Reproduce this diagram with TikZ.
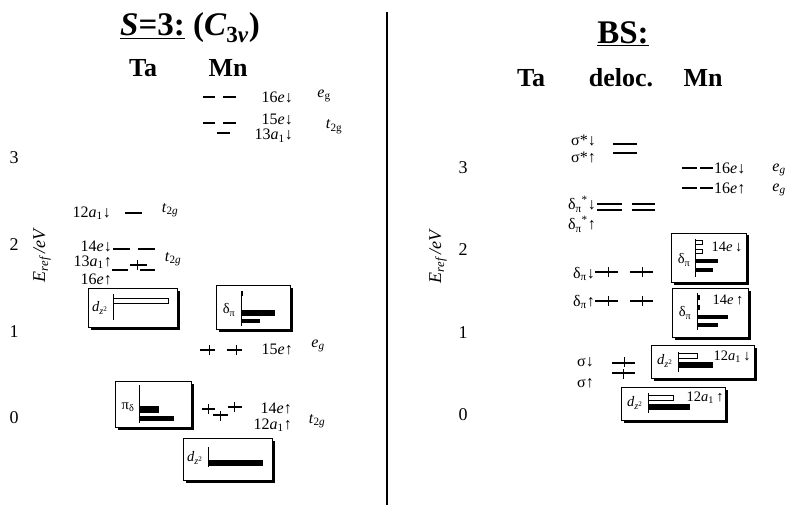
\documentclass[tikz,border=0pt]{standalone}
\usepackage{fontspec}
\setmainfont{Liberation Serif}

% box with a drop shadow, corners given as (x1,y1) and (x2,y2)
\newcommand{\mobox}[2]{%
	\fill ([shift={(2.5,2.5)}]#1) rectangle ([shift={(2.5,2.5)}]#2);
	\draw[line width=0.9pt, fill=white] (#1) rectangle (#2);}
% one electron on a level
\newcommand{\spin}[2]{\draw[elec] (#1,#2-5) -- (#1,#2+5);}

\begin{document}
\begin{tikzpicture}[x=1pt, y=-1pt,
	lvl/.style={line width=1.5pt},
	elec/.style={line width=0.9pt},
	openbar/.style={line width=0.7pt, fill=white},
	lbl/.style={font=\fontsize{16}{18}\selectfont, inner sep=0pt},
	boxlbl/.style={font=\fontsize{14.5}{16}\selectfont, inner sep=0pt},
	num/.style={font=\fontsize{18}{20}\selectfont, inner sep=0pt},
	elab/.style={font=\fontsize{18}{20}\selectfont\itshape, inner sep=0pt, rotate=90},
	hdr/.style={font=\fontsize{26}{28}\selectfont\bfseries, inner sep=0pt},
	ttl/.style={font=\fontsize{33}{35}\selectfont\bfseries, inner sep=0pt}]
	
	\useasboundingbox (0,0) rectangle (787,505);
	
	% divider between the two panels
	\draw[line width=1.2pt] (387,12) -- (387,505);
	
	%%%%%%%%%%%%%%%% left panel: S=3 %%%%%%%%%%%%%%%%
	\node[ttl] (ttlS) at (190,28) {\underline{\textit{S}=3:} (\textit{C}\textsubscript{3\textit{v}})};
	\node[hdr] (taL) at (143,68) {Ta};
	\node[hdr] (mnL) at (228,68) {Mn};
	
	% energy scale
	\foreach \v/\yy in {3/158, 2/245, 1/332, 0/418}
		\node[num] (nL\v) at (14,\yy) {\v};
	\node[elab] (eL) at (42,256) {E\textsubscript{ref}\,/eV};
	
	% empty Mn levels (spin down)
	\draw[lvl] (203,97) -- (215,97) (223,97) -- (236,97);
	\draw[lvl] (203,123) -- (215,123) (223,123) -- (236,123);
	\draw[lvl] (217,133) -- (230,133);
	\node[lbl, anchor=east] (l16d) at (293,97) {16\textit{e}↓};
	\node[lbl, anchor=east] (l15d) at (293,119) {15\textit{e}↓};
	\node[lbl, anchor=east] (l13d) at (293,136) {13\textit{a}\textsubscript{1}↓};
	\node[lbl] (egA) at (324,96) {\textit{e}\textsubscript{g}};
	\node[lbl] (tgA) at (334,127) {\textit{t}\textsubscript{2g}};
	
	% Ta levels
	\draw[lvl] (125,213) -- (142,213);
	\node[lbl, anchor=east] (l12d) at (111,213) {12\textit{a}\textsubscript{1}↓};
	\node[lbl] (tgB) at (170,210) {\textit{t}\textsubscript{2\textit{g}}};
	
	\draw[lvl] (113,249) -- (130,249) (138,249) -- (155,249);
	\draw[lvl] (112,270) -- (128,270) (140,270) -- (155,270);
	\draw[lvl] (130,265) -- (147,265);
	\spin{137}{265}
	\node[lbl, anchor=east] (l14d) at (112,246) {14\textit{e}↓};
	\node[lbl, anchor=east] (l13u) at (112,262) {13\textit{a}\textsubscript{1}↑};
	\node[lbl, anchor=east] (l16u) at (112,279) {16\textit{e}↑};
	\node[lbl] (tgC) at (173,259) {\textit{t}\textsubscript{2\textit{g}}};
	
	% occupied Mn levels (spin up)
	\draw[lvl] (200,350) -- (215,350) (227,350) -- (242,350);
	\spin{209}{350} \spin{236}{350}
	\node[lbl, anchor=east] (l15u) at (293,349) {15\textit{e}↑};
	\node[lbl] (egB) at (318,346) {\textit{e}\textsubscript{\textit{g}}};
	
	\draw[lvl] (202,409) -- (215,409) (213,415) -- (228,415) (228,407) -- (242,407);
	\spin{208}{409} \spin{220}{416} \spin{234}{407}
	\node[lbl, anchor=east] (l14u) at (292,408) {14\textit{e}↑};
	\node[lbl, anchor=east] (l12u) at (292,425) {12\textit{a}\textsubscript{1}↑};
	\node[lbl] (tgD) at (317,421) {\textit{t}\textsubscript{2\textit{g}}};
	
	% population boxes
	\mobox{88,288}{177,327}
	\node[boxlbl] (bA) at (100,308) {\textit{d}\textsubscript{\textit{z}\textsuperscript{2}}};
	\draw[line width=0.9pt] (113,294) -- (113,320);
	\draw[openbar] (113,298) rectangle (168,303);
	
	\mobox{216,285}{290,329}
	\node[boxlbl] (bB) at (229,310) {δ\textsubscript{π}};
	\draw[line width=0.9pt] (241,291) -- (241,326);
	\fill (241,291) rectangle (243,296);
	\fill (241,310) rectangle (275,316);
	\fill (241,319) rectangle (260,323);
	
	\mobox{115,381}{191,427}
	\node[boxlbl] (bC) at (128,407) {π\textsubscript{δ}};
	\draw[line width=0.9pt] (139,385) -- (139,423);
	\fill (139,406) rectangle (159,413);
	\fill (139,416) rectangle (174,421);
	
	\mobox{183,438}{272,480}
	\node[boxlbl] (bD) at (195,458) {\textit{d}\textsubscript{\textit{z}\textsuperscript{2}}};
	\draw[line width=0.9pt] (208,447) -- (208,467);
	\fill (208,460) rectangle (263,466);
	
	%%%%%%%%%%%%%%%% right panel: BS %%%%%%%%%%%%%%%%
	\node[ttl] (ttlBS) at (623,34) {\underline{BS:}};
	\node[hdr] (taR) at (531,78) {Ta};
	\node[hdr] (dlR) at (621,78) {deloc.};
	\node[hdr] (mnR) at (703,78) {Mn};
	
	% energy scale
	\foreach \v/\yy in {3/168, 2/250, 1/333, 0/415}
		\node[num] (nR\v) at (463,\yy) {\v};
	\node[elab] (eR) at (438,257) {E\textsubscript{ref}\,/eV};
	
	% delocalised levels
	\draw[lvl] (613,144) -- (637,144) (613,153) -- (637,153);
	\node[lbl, anchor=east] (sgd) at (596,141) {σ*↓};
	\node[lbl, anchor=east] (sgu) at (596,158) {σ*↑};
	
	\draw[lvl] (597,204) -- (622,204) (597,210) -- (622,210)
		(632,204) -- (655,204) (632,210) -- (655,210);
	\node[lbl, anchor=east] (dpsd) at (596,204) {δ\textsubscript{π}\textsuperscript{*}↓};
	\node[lbl, anchor=east] (dpsu) at (596,224) {δ\textsubscript{π}\textsuperscript{*}↑};
	
	\draw[lvl] (595,272) -- (618,272) (630,272) -- (653,272);
	\spin{608}{272} \spin{642}{272}
	\node[lbl, anchor=east] (dpd) at (595,274) {δ\textsubscript{π}↓};
	
	\draw[lvl] (595,301) -- (618,301) (630,301) -- (653,301);
	\spin{608}{301} \spin{642}{301}
	\node[lbl, anchor=east] (dpu) at (595,302) {δ\textsubscript{π}↑};
	
	\draw[lvl] (612,363) -- (635,363) (612,373) -- (635,373);
	\spin{624}{362} \spin{623}{374}
	\node[lbl, anchor=east] (sd) at (594,362) {σ↓};
	\node[lbl, anchor=east] (su) at (594,383) {σ↑};
	
	% Mn levels
	\draw[lvl] (682,168) -- (697,168) (700,168) -- (713,168);
	\draw[lvl] (682,188) -- (697,188) (700,188) -- (713,188);
	\node[lbl, anchor=west] (r16d) at (714,168) {16\textit{e}↓};
	\node[lbl, anchor=west] (r16u) at (714,188) {16\textit{e}↑};
	\node[lbl] (egC) at (779,170) {\textit{e}\textsubscript{\textit{g}}};
	\node[lbl] (egD) at (779,190) {\textit{e}\textsubscript{\textit{g}}};
	
	% population boxes
	\mobox{671,233}{746,282}
	\node[boxlbl] (bE) at (684,260) {δ\textsubscript{π}};
	\draw[line width=0.9pt] (695,239) -- (695,277);
	\draw[openbar] (695,240) rectangle (702,244);
	\draw[openbar] (695,249) rectangle (702,253);
	\fill (695,259) rectangle (718,263);
	\fill (695,268) rectangle (713,272);
	\node[boxlbl] (r14d) at (727,247) {14\textit{e}\,↓};
	
	\mobox{672,288}{748,337}
	\node[boxlbl] (bF) at (685,313) {δ\textsubscript{π}};
	\draw[line width=0.9pt] (697,293) -- (697,330);
	\fill (697,295) rectangle (700,300);
	\fill (697,305) rectangle (700,310);
	\fill (697,315) rectangle (728,319);
	\fill (697,323) rectangle (718,327);
	\node[boxlbl] (r14u) at (728,300) {14\textit{e}\,↑};
	
	\mobox{651,345}{754,378}
	\node[boxlbl] (bG) at (665,361) {\textit{d}\textsubscript{\textit{z}\textsuperscript{2}}};
	\draw[line width=0.9pt] (678,352) -- (678,372);
	\fill (678,362) rectangle (713,368);
	\draw[openbar] (678,353) rectangle (697,358);
	\node[boxlbl] (r12d) at (732,357) {12\textit{a}\textsubscript{1}\,↓};
	
	\mobox{621,387}{725,420}
	\node[boxlbl] (bH) at (635,403) {\textit{d}\textsubscript{\textit{z}\textsuperscript{2}}};
	\draw[line width=0.9pt] (648,393) -- (648,413);
	\fill (648,404) rectangle (690,410);
	\draw[openbar] (648,395) rectangle (673,400);
	\node[boxlbl] (r12u) at (705,398) {12\textit{a}\textsubscript{1}\,↑};
	
\end{tikzpicture}
\end{document}
